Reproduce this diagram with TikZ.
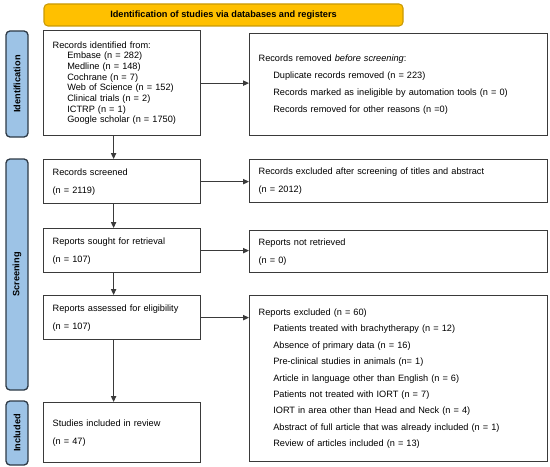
\documentclass[tikz,border=0pt]{standalone}
\usepackage{fontspec}
\setmainfont{Liberation Sans}
\usetikzlibrary{arrows.meta}
\definecolor{bannerfill}{HTML}{FFC000}
\definecolor{bannerline}{HTML}{C99A06}
\definecolor{phasefill}{HTML}{9DC3E6}
\definecolor{phaseline}{HTML}{2E3A46}
\definecolor{boxline}{HTML}{3A3A3A}
\tikzset{
    flow/.style={draw=boxline, line width=0.95pt, fill=white, anchor=north west,
        inner xsep=6.75pt, inner ysep=0pt, align=left,
        font=\fontsize{6.9pt}{8pt}\selectfont},
    leftbox/.style={flow, minimum width=117.75pt, text width=104.25pt},
    rightbox/.style={flow, minimum width=223.5pt, text width=210pt},
    phase/.style={draw=phaseline, line width=1pt, fill=phasefill, rounded corners=3pt,
        rotate=90, minimum height=16.5pt, inner sep=0pt,
        font=\fontsize{6.9pt}{8pt}\selectfont\bfseries},
    banner/.style={draw=bannerline, line width=0.8pt, fill=bannerfill, rounded corners=3pt,
        minimum width=269.25pt, minimum height=16.5pt, inner sep=0pt,
        font=\fontsize{6.9pt}{8pt}\selectfont\bfseries},
    flowarrow/.style={draw=boxline, line width=0.8pt, -{Triangle[length=4.5pt,width=4pt]}}
}
\newcommand{\ind}{\hspace*{11pt}}
\begin{document}
\begin{tikzpicture}[x=0.75pt, y=-0.75pt]
    \useasboundingbox (0,0) rectangle (550,467);
    \node[banner] (head) at (223.5,15) {Identification of studies via databases and registers};
    \foreach \name/\y/\h in {Identification/84/79.5pt, Screening/274.5/173.25pt, Included/433/48pt}
        {
            \node[phase, minimum width=\h] (\name) at (17,\y) {\name};
        }
    % left column
    \node[leftbox, minimum height=78.75pt] (ident) at (43,30)
        {Records identified from:\\
        \ind Embase (n = 282)\\
        \ind Medline (n = 148)\\
        \ind Cochrane (n = 7)\\
        \ind Web of Science (n = 152)\\
        \ind Clinical trials (n = 2)\\
        \ind ICTRP (n = 1)\\
        \ind Google scholar (n = 1750)};
    \node[leftbox, minimum height=33pt] (screened) at (43,159)
        {Records screened\\[5.5pt] (n = 2119)};
    \node[leftbox, minimum height=33pt] (sought) at (43,228)
        {Reports sought for retrieval\\[5.5pt] (n = 107)};
    \node[leftbox, minimum height=33pt] (assessed) at (43,295)
        {Reports assessed for eligibility\\[5.5pt] (n = 107)};
    \node[leftbox, minimum height=45pt] (included) at (43,402)
        {Studies included in review\\[5.5pt] (n = 47)};
    % right column
    \node[rightbox, minimum height=76.5pt] (removed) at (249,33)
        {Records removed \textit{before screening}:\\[4.75pt]
        \ind Duplicate records removed (n = 223)\\[4.75pt]
        \ind Records marked as ineligible by automation tools (n = 0)\\[4.75pt]
        \ind Records removed for other reasons (n =0)};
    \node[rightbox, minimum height=32.25pt] (excluded) at (249,159)
        {Records excluded after screening of titles and abstract\\[5.5pt] (n = 2012)};
    \node[rightbox, minimum height=31.5pt] (notretr) at (249,230)
        {Reports not retrieved\\[5.5pt] (n = 0)};
    \node[rightbox, minimum height=124.5pt] (reasons) at (249,295)
        {Reports excluded (n = 60)\\[4.3pt]
        \ind Patients treated with brachytherapy (n = 12)\\[4.3pt]
        \ind Absence of primary data (n = 16)\\[4.3pt]
        \ind Pre-clinical studies in animals (n= 1)\\[4.3pt]
        \ind Article in language other than English (n = 6)\\[4.3pt]
        \ind Patients not treated with IORT (n = 7)\\[4.3pt]
        \ind IORT in area other than Head and Neck (n = 4)\\[4.3pt]
        \ind Abstract of full article that was already included (n = 1)\\[4.3pt]
        \ind Review of articles included (n = 13)};
    % arrows
    \draw[flowarrow] ([xshift=-6.4pt]ident.south) -- ([xshift=-6.4pt]screened.north);
    \draw[flowarrow] ([xshift=-6.4pt]screened.south) -- ([xshift=-6.4pt]sought.north);
    \draw[flowarrow] ([xshift=-6.4pt]sought.south) -- ([xshift=-6.4pt]assessed.north);
    \draw[flowarrow] ([xshift=-6.4pt]assessed.south) -- ([xshift=-6.4pt]included.north);
    \draw[flowarrow] (ident.east) -- (ident.east -| removed.west);
    \draw[flowarrow] (screened.east) -- (screened.east -| excluded.west);
    \draw[flowarrow] (sought.east) -- (sought.east -| notretr.west);
    \draw[flowarrow] (assessed.east) -- (assessed.east -| reasons.west);
\end{tikzpicture}
\end{document}
